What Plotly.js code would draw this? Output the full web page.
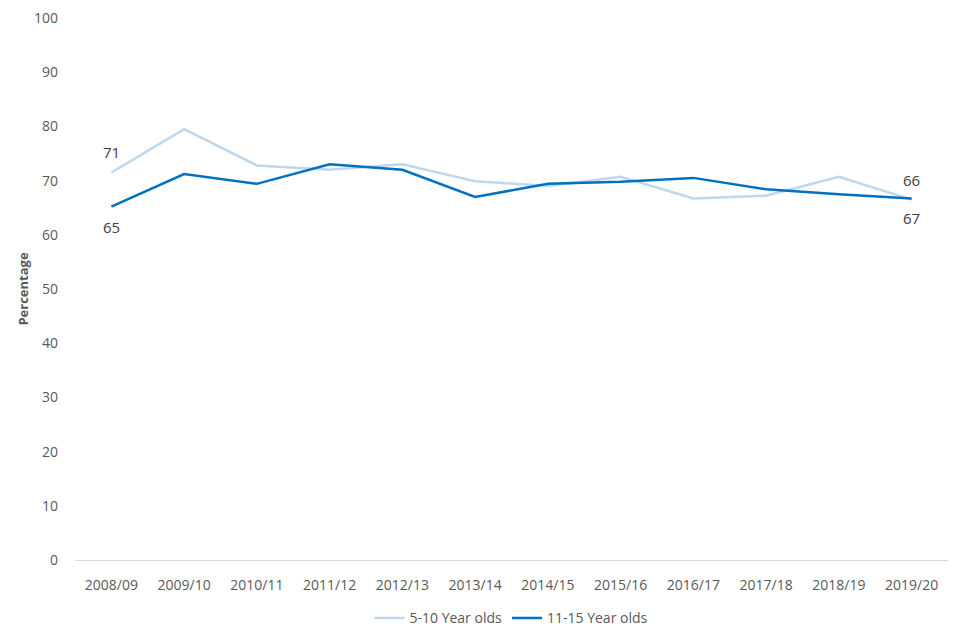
<!DOCTYPE html>
<html><head><meta charset="utf-8">
<script src="https://cdn.plot.ly/plotly-3.0.1.min.js"></script>
<style>html,body{margin:0;padding:0;background:#fff}#chart{width:960px;height:640px}</style>
</head><body><div id="chart"></div>
<script>
var years = ["2008/09","2009/10","2010/11","2011/12","2012/13","2013/14","2014/15","2015/16","2016/17","2017/18","2018/19","2019/20"];
var young = [71.5,79.5,72.8,72.0,73.0,69.9,69.0,70.7,66.7,67.2,70.7,66.5];
var older = [65.2,71.2,69.4,73.0,72.0,67.0,69.4,69.8,70.5,68.4,67.5,66.7];
var youngLabels = ["71","","","","","","","","","","","66"];
var olderLabels = ["65","","","","","","","","","","","67"];
var seriesNames = ["5-10 Year olds","11-15 Year olds"];
var yTicks = [0,10,20,30,40,50,60,70,80,90,100];

var fam = "Open Sans, Liberation Sans, sans-serif";
var font = {family:fam, size:14, color:"#595959"};
var traces = [
  {x:years, y:young, name:seriesNames[0], type:"scatter", mode:"lines",
   line:{color:"#BDD7EE", width:2.5}},
  {x:years, y:older, name:seriesNames[1], type:"scatter", mode:"lines",
   line:{color:"#0070C0", width:2.5}}
];
var annotations = [];
function addLabels(labels, vals, shift){
  for (var i=0;i<labels.length;i++){
    if (!labels[i]) continue;
    annotations.push({x:years[i], y:vals[i], xref:"x", yref:"y", text:labels[i], showarrow:false,
      yshift:shift, font:{family:fam, size:15, color:"#404040"}});
  }
}
addLabels(youngLabels, young, 20);
addLabels(olderLabels, older, -20);

var layout = {
  width:960, height:640,
  margin:{l:75, r:12, t:18, b:80, autoexpand:false},
  paper_bgcolor:"#fff", plot_bgcolor:"#fff",
  font:font,
  showlegend:true,
  legend:{orientation:"h", x:0.5, xanchor:"center", y:-0.078, yanchor:"top",
          font:{family:fam, size:14, color:"#595959"}},
  annotations:annotations,
  xaxis:{type:"category", range:[-0.5,11.5], showgrid:false, zeroline:false,
         showline:true, linecolor:"#d9d9d9", linewidth:1, ticks:"", ticklen:0,
         ticklabelstandoff:12,
         tickfont:{family:fam, size:14, color:"#595959"}},
  yaxis:{range:[0,100], tickvals:yTicks, showgrid:false, zeroline:false, showline:false,
         ticks:"", ticklabelstandoff:16, tickfont:{family:fam, size:14, color:"#595959"},
         title:{text:"<b>Percentage</b>", font:{family:fam, size:13, color:"#595959"}, standoff:2}}
};
Plotly.newPlot("chart", traces, layout, {displayModeBar:false, staticPlot:true});
</script></body></html>
